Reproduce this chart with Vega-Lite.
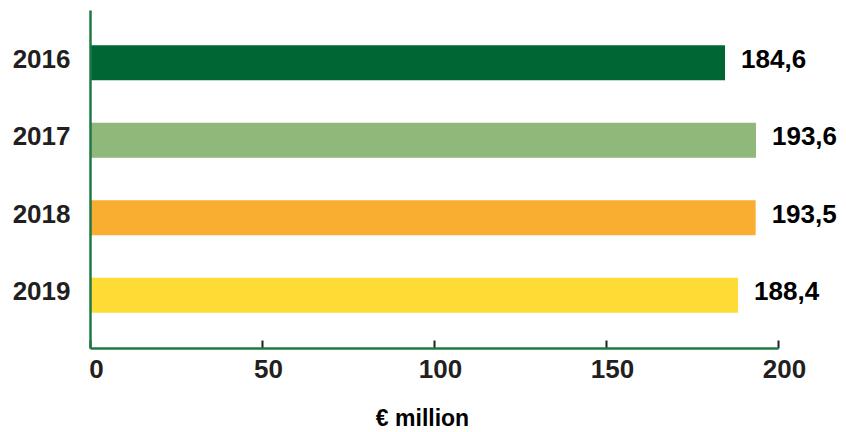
{
  "$schema": "https://vega.github.io/schema/vega-lite/v6.json",
  "width": 688,
  "height": 338,
  "autosize": {"type": "none"},
  "padding": {"left": 90, "top": 10, "right": 68, "bottom": 84},
  "background": "white",
  "config": {
    "view": {"stroke": null},
    "locale": {"number": {"decimal": ",", "thousands": ".", "grouping": [3], "currency": ["", " €"]}}
  },
  "data": {
    "values": [
      {"year": "2016", "value": 184.6},
      {"year": "2017", "value": 193.6},
      {"year": "2018", "value": 193.5},
      {"year": "2019", "value": 188.4}
    ]
  },
  "encoding": {
    "y": {
      "field": "year",
      "type": "nominal",
      "sort": null,
      "scale": {"paddingInner": 0.548, "paddingOuter": 0.454},
      "axis": {
        "title": null,
        "ticks": false,
        "domainColor": "#1e7a45",
        "domainWidth": 2.5,
        "labelPadding": 20,
        "labelOffset": -3,
        "labelFont": "Liberation Sans",
        "labelFontWeight": "bold",
        "labelFontSize": 26,
        "labelColor": "#231f20",
        "zindex": 1
      }
    },
    "x": {
      "field": "value",
      "type": "quantitative",
      "scale": {"domain": [0, 200], "nice": false},
      "axis": {
        "title": "€ million",
        "values": [0, 50, 100, 150, 200],
        "grid": false,
        "labelFlush": false,
        "domainColor": "#1e7a45",
        "domainWidth": 2.5,
        "tickColor": "#231f20",
        "tickWidth": 2,
        "tickSize": -8,
        "labelPadding": 16,
        "labelOffset": 6,
        "labelFont": "Liberation Sans",
        "labelFontWeight": "bold",
        "labelFontSize": 26,
        "labelColor": "#231f20",
        "titleFont": "Liberation Sans",
        "titleFontWeight": "bold",
        "titleFontSize": 23,
        "titleColor": "#000000",
        "titleX": 332,
        "titleY": 77,
        "titleBaseline": "alphabetic",
        "zindex": 1
      }
    }
  },
  "layer": [
    {
      "mark": {"type": "bar"},
      "encoding": {
        "color": {
          "field": "year",
          "type": "nominal",
          "scale": {"domain": ["2016", "2017", "2018", "2019"], "range": ["#006633", "#8fb87a", "#f9ae32", "#fedb35"]},
          "legend": null
        }
      }
    },
    {
      "mark": {
        "type": "text",
        "align": "left",
        "baseline": "middle",
        "dx": 16,
        "dy": -3,
        "font": "Liberation Sans",
        "fontWeight": "bold",
        "fontSize": 26,
        "color": "#000000"
      },
      "encoding": {
        "text": {"field": "value", "type": "quantitative", "format": ".1f"}
      }
    }
  ]
}
